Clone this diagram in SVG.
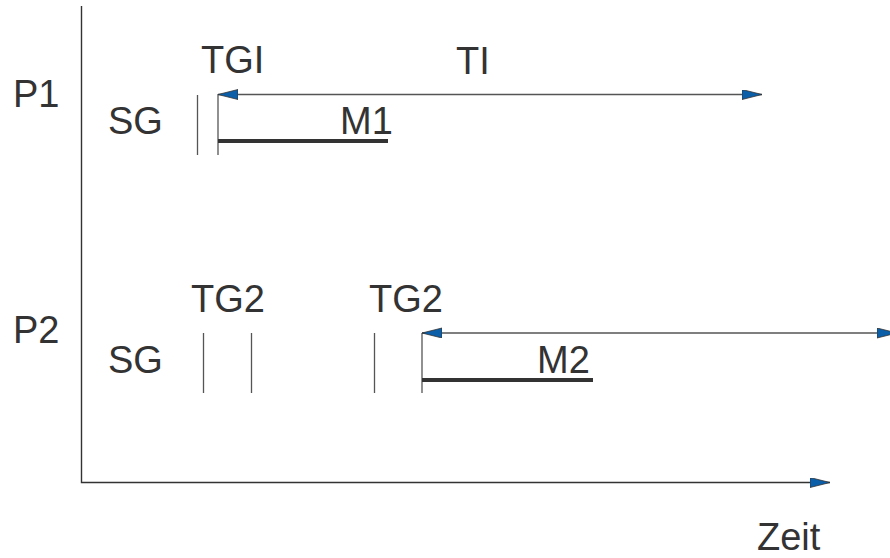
<svg xmlns="http://www.w3.org/2000/svg" width="890" height="558" viewBox="0 0 890 558">
<defs>
<style>
text{font-family:"Liberation Sans",Arial,sans-serif;font-size:38px;fill:#333}
.thin{stroke:#555;stroke-width:1.3;fill:none}
.arr{stroke:#555;stroke-width:1.3;fill:none;marker-end:url(#ah);marker-start:url(#ah)}
.thick{stroke:#333;stroke-width:4;fill:none}
.axis{stroke:#333;stroke-width:1.4;fill:none}
</style>
<marker id="ah" markerUnits="userSpaceOnUse" markerWidth="22" markerHeight="12" refX="20" refY="5" orient="auto-start-reverse" viewBox="0 0 22 12">
<path d="M0,0 L20,5 L0,10 Z" fill="#0b5ea8" stroke="#333" stroke-width="0.8"/>
</marker>
</defs>
<rect width="890" height="558" fill="#fff"/>
<g id="connectors">
<path class="axis" d="M81.5,6 V482.5 H830" marker-end="url(#ah)"/>
<path class="thin" d="M197.5,95 V155"/>
<path class="thin" d="M218,94 V155"/>
<path class="arr" d="M218,94.5 H762"/>
<path class="thick" d="M218,141 H388"/>
<path class="thin" d="M203.5,333 V393"/>
<path class="thin" d="M251.5,333 V393"/>
<path class="thin" d="M374.5,333 V393"/>
<path class="thin" d="M422,333 V393"/>
<path class="arr" d="M422,333 H897"/>
<path class="thick" d="M422,380 H593"/>
</g>
<g id="labels-p1">
<text x="13" y="107">P1</text>
<text x="108" y="134">SG</text>
<text x="201" y="73">TGI</text>
<text x="456" y="74">TI</text>
<text x="340" y="134">M1</text>
</g>
<g id="labels-p2">
<text x="13" y="343">P2</text>
<text x="108" y="373">SG</text>
<text x="191" y="312">TG2</text>
<text x="369" y="312">TG2</text>
<text x="537" y="373">M2</text>
</g>
<g id="axis-label">
<text x="757" y="550">Zeit</text>
</g>
</svg>
